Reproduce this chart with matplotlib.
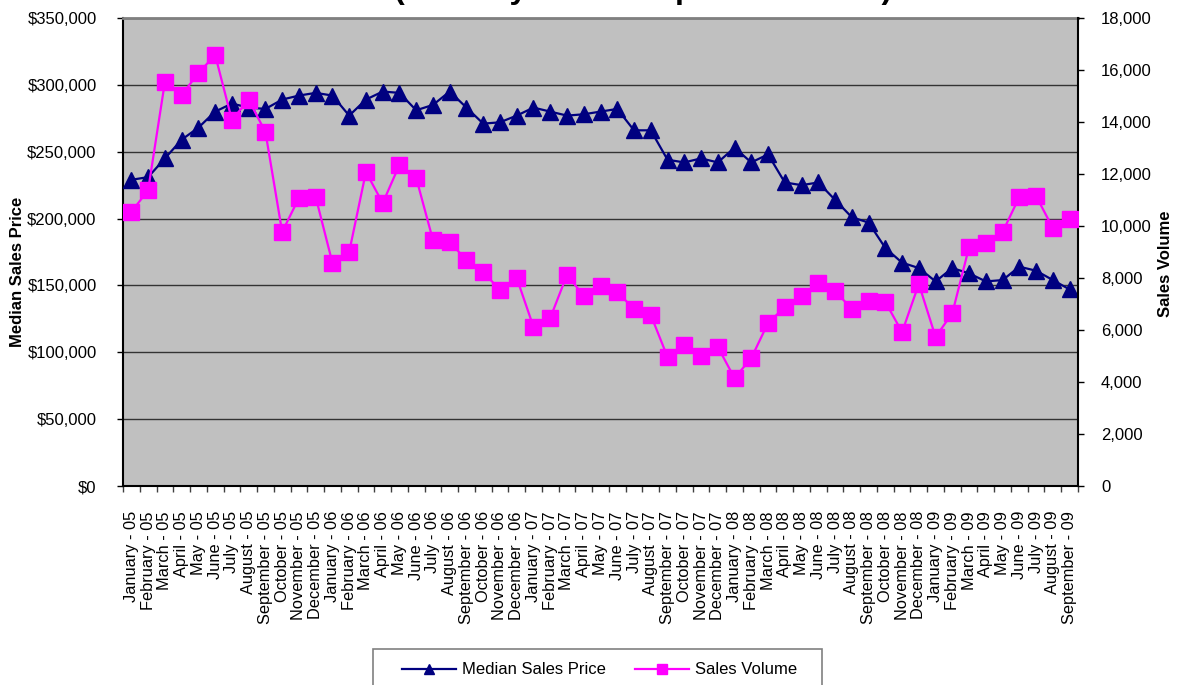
import numpy as np
import matplotlib
matplotlib.use("Agg")
import matplotlib.pyplot as plt
from matplotlib.lines import Line2D
from matplotlib.patches import Rectangle
from matplotlib.ticker import FuncFormatter

plt.rcParams['font.family'] = ['Liberation Sans', 'DejaVu Sans']

month_names = ["January", "February", "March", "April", "May", "June", "July",
               "August", "September", "October", "November", "December"]
years = ["05", "06", "07", "08", "09"]
months = [f"{m} - {y}" for y in years for m in month_names][:57]

median_price = [229000, 231000, 245000, 259000, 268000, 280000, 286000, 283000, 282000,
                289000, 292000, 294000, 292000, 277000, 289000, 295000, 294000, 281000,
                285000, 295000, 283000, 271000, 272000, 277000, 283000, 280000, 277000,
                278000, 280000, 282000, 266000, 266000, 244000, 242000, 245000, 242000,
                253000, 242000, 248000, 227000, 225000, 227000, 214000, 201000, 197000,
                178000, 167000, 163000, 153000, 163000, 159000, 153000, 154000, 164000,
                161000, 154000, 147000]

sales_volume = [10540, 11380, 15540, 15040, 15880, 16580, 14080, 14850, 13620,
                9770, 11080, 11120, 8580, 9000, 12080, 10880, 12350, 11850,
                9460, 9380, 8690, 8230, 7540, 8000, 6120, 6460, 8120,
                7310, 7690, 7460, 6810, 6580, 4960, 5420, 5000, 5350,
                4150, 4920, 6270, 6880, 7310, 7810, 7500, 6810, 7120,
                7080, 5920, 7770, 5730, 6650, 9190, 9350, 9770, 11120,
                11150, 9920, 10270]

price_ticks = list(range(0, 350001, 50000))
volume_ticks = list(range(0, 18001, 2000))

NAVY = "#000080"
MAGENTA = "#FF00FF"
W, H = 1177, 685

fig = plt.figure(figsize=(W / 100, H / 100), dpi=100)
ax = fig.add_axes([123 / W, 199 / H, 955 / W, 468 / H])
ax.set_facecolor("#C0C0C0")

x = np.arange(len(months))
ax.plot(x, median_price, color=NAVY, lw=1.6, marker="^", ms=12,
        markeredgecolor=NAVY, markerfacecolor=NAVY, zorder=3)

ax2 = ax.twinx()
ax2.plot(x, sales_volume, color=MAGENTA, lw=1.6, marker="s", ms=12,
         markeredgecolor=MAGENTA, markerfacecolor=MAGENTA, zorder=3)

ax.set_xlim(-0.5, len(months) - 0.5)
ax.set_ylim(0, 350000)
ax2.set_ylim(0, 18000)
ax.set_yticks(price_ticks)
ax2.set_yticks(volume_ticks)
ax.yaxis.set_major_formatter(FuncFormatter(lambda v, p: f"${v:,.0f}"))
ax2.yaxis.set_major_formatter(FuncFormatter(lambda v, p: f"{v:,.0f}"))

ax.yaxis.grid(True, color="#333333", lw=1.0)
ax.set_axisbelow(True)

# category labels at the centres, tick marks on category boundaries
ax.set_xticks(x)
ax.set_xticklabels(months, rotation=90, fontsize=11.8)
ax.set_xticks(np.arange(-0.5, len(months), 1), minor=True)
ax.tick_params(axis="x", which="major", length=0, pad=18)
ax.tick_params(axis="x", which="minor", length=4.3, width=1, color="#404040", direction="out")
ax.tick_params(axis="y", which="major", length=4.5, width=1, direction="out",
               labelsize=12, pad=14.5)
ax2.tick_params(axis="y", which="major", length=4.5, width=1, direction="out",
                labelsize=12, pad=12)

for s in ("left", "bottom"):
    ax.spines[s].set_color("black")
    ax.spines[s].set_linewidth(1.5)
ax.spines["top"].set_color("#808080")
ax.spines["top"].set_linewidth(2)
ax.spines["right"].set_visible(False)
for s in ("left", "top", "bottom"):
    ax2.spines[s].set_visible(False)
ax2.spines["right"].set_color("black")
ax2.spines["right"].set_linewidth(1.5)

fig.text(18 / W, 1 - 272 / H, "Median Sales Price", rotation=90, fontsize=12,
         fontweight="bold", ha="center", va="center")
fig.text(1165 / W, 1 - 264 / H, "Sales Volume", rotation=90, fontsize=12,
         fontweight="bold", ha="center", va="center")

# title sits just above the top edge of the canvas, only its descenders show
fig.text(394 / W, 1 + 2 / H, "(January 2005 - September 2009)", fontsize=23,
         fontweight="bold", ha="left", va="baseline")

# legend
fig.patches.append(Rectangle((373 / W, 1 - 700 / H), 449 / W, 51 / H,
                             transform=fig.transFigure, fill=False,
                             edgecolor="#808080", lw=1.2))
handles = [Line2D([], [], color=NAVY, lw=1.6, marker="^", ms=7),
           Line2D([], [], color=MAGENTA, lw=1.6, marker="s", ms=7)]
fig.legend(handles, ["Median Sales Price", "Sales Volume"], loc="center left",
           bbox_to_anchor=(402 / W, 1 - 670 / H), ncol=2, frameon=False,
           fontsize=12, handlelength=3.25, handletextpad=0.35, columnspacing=1.75,
           borderpad=0, borderaxespad=0)

fig.savefig("out.png", dpi=100)
